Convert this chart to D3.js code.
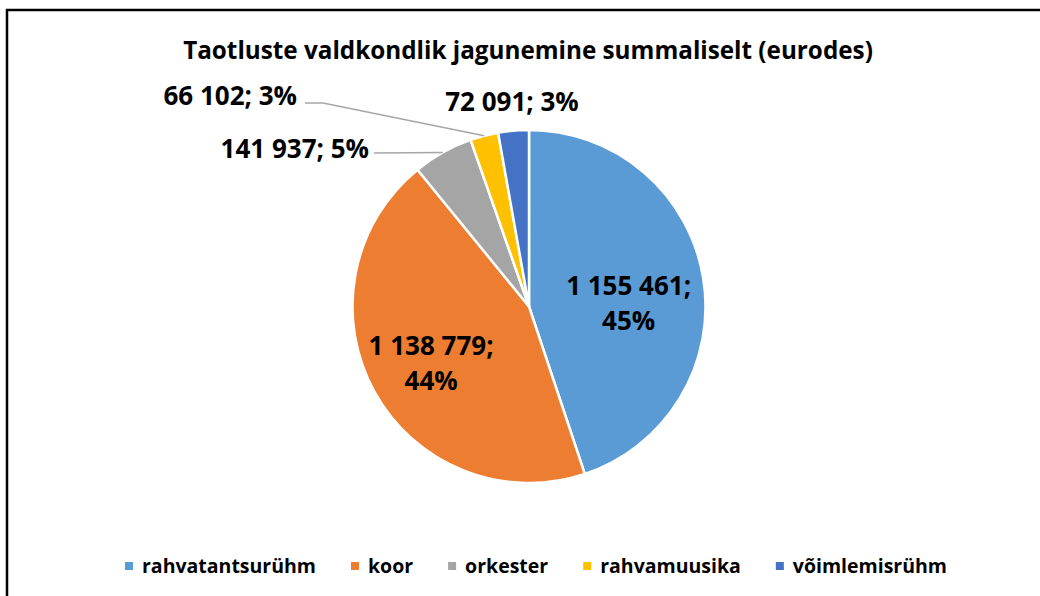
<!DOCTYPE html>
<html>
<head>
<meta charset="utf-8">
<script src="https://cdn.jsdelivr.net/npm/d3@7"></script>
<style>
  body { margin: 0; background: #fff; }
  svg { display: block; font-family: "Open Sans", "Liberation Sans", sans-serif; }
</style>
</head>
<body>
<div id="cont"></div>
<script>
// data
var categories = ["rahvatantsurühm", "koor", "orkester", "rahvamuusika", "võimlemisrühm"];
var values = [1155461, 1138779, 141937, 66102, 72091];
var percents = ["45%", "44%", "5%", "3%", "3%"];
var colors = ["#5B9BD5", "#ED7D31", "#A5A5A5", "#FFC000", "#4472C4"];

var W = 1040, H = 596;
var cx = 529, cy = 306.5, r = 176.5;

var svg = d3.select("#cont")
  .append("svg")
  .attr("width", W)
  .attr("height", H);

svg.append("rect")
  .attr("width", W).attr("height", H)
  .style("fill", "#fff");

// chart border (runs off right/bottom edge)
svg.append("rect")
  .attr("x", 7).attr("y", 10)
  .attr("width", W + 20).attr("height", H + 20)
  .style("fill", "none")
  .style("stroke", "#000")
  .style("stroke-width", 2.5);

// font size that gives a text the width it has in the reference
function fitSize(str, w, base) {
  var t = svg.append("text").style("font-size", base + "px").style("font-weight", "bold").text(str);
  var fs = base * w / t.node().getComputedTextLength();
  t.remove();
  return fs;
}

svg.append("text")
  .attr("x", 528).attr("y", 59)
  .attr("text-anchor", "middle")
  .style("font-size", fitSize("Taotluste valdkondlik jagunemine summaliselt (eurodes)", 690, 24) + "px")
  .style("font-weight", "bold")
  .style("fill", "#000")
  .text("Taotluste valdkondlik jagunemine summaliselt (eurodes)");

var fmt = function(v) { return d3.format(",")(v).replace(/,/g, " "); };

var pie = d3.pie().sort(null).value(function(d) { return d; });
var arcs = pie(values);
var arc = d3.arc().innerRadius(0).outerRadius(r);

var g = svg.append("g").attr("transform", "translate(" + cx + "," + cy + ")");

g.selectAll("path")
  .data(arcs)
  .enter()
  .append("path")
  .attr("d", arc)
  .style("fill", function(d, i) { return colors[i]; })
  .style("stroke", "#fff")
  .style("stroke-width", 2.5)
  .style("stroke-linejoin", "round");

// label placement (layout only)
var labelArc = d3.arc().innerRadius(106).outerRadius(106);
var innerNudge = [[-5, 13], [-5, 5]];
var outerPt = function(d, rad) {
  var a = (d.startAngle + d.endAngle) / 2;
  return [rad * Math.sin(a), -rad * Math.cos(a)];
};

var lblSize = fitSize(fmt(values[0]) + ";", 125, 24) + "px";

// big slices: two-line labels inside
arcs.slice(0, 2).forEach(function(d, i) {
  var c = labelArc.centroid(d);
  var x = c[0] + innerNudge[i][0], y = c[1] + innerNudge[i][1];
  var t = g.append("text")
    .attr("text-anchor", "middle")
    .style("font-size", lblSize)
    .style("font-weight", "bold")
    .style("fill", "#000");
  t.append("tspan").attr("x", x).attr("y", y - 8).text(fmt(values[i]) + ";");
  t.append("tspan").attr("x", x).attr("y", y + 27).text(percents[i]);
});

// small slices: outside with leader lines
var leaders = {
  2: { bend: null, end: [-155, -153.5], text: [-160, -149] },
  3: { bend: [-206, -203.5], end: [-224, -203.5], text: [-232, -202] }
};

[2, 3].forEach(function(i) {
  var d = arcs[i];
  var p = outerPt(d, r);
  var L = leaders[i];
  var pts = [p];
  if (L.bend) pts.push(L.bend);
  pts.push(L.end);
  g.append("path")
    .attr("d", d3.line()(pts))
    .style("fill", "none")
    .style("stroke", "#A6A6A6")
    .style("stroke-width", 1.5);
  g.append("text")
    .attr("x", L.text[0]).attr("y", L.text[1])
    .attr("text-anchor", "end")
    .style("font-size", lblSize)
    .style("font-weight", "bold")
    .style("fill", "#000")
    .text(fmt(values[i]) + "; " + percents[i]);
});

var p4 = outerPt(arcs[4], 205);
g.append("text")
  .attr("x", p4[0] + 1).attr("y", p4[1] + 9)
  .attr("text-anchor", "middle")
  .style("font-size", lblSize)
  .style("font-weight", "bold")
  .style("fill", "#000")
  .text(fmt(values[4]) + "; " + percents[4]);

// legend
var leg = svg.append("g");
var xpos = 0;
categories.forEach(function(c, i) {
  var item = leg.append("g").attr("transform", "translate(" + xpos + ",0)");
  item.append("rect")
    .attr("x", 0).attr("y", 562)
    .attr("width", 8).attr("height", 8)
    .style("fill", colors[i]);
  var t = item.append("text")
    .attr("x", 17).attr("y", 573)
    .style("font-size", "19.5px")
    .style("font-weight", "bold")
    .style("fill", "#000")
    .text(c);
  xpos += 17 + t.node().getComputedTextLength() + 35;
});
var legW = xpos - 35;
leg.attr("transform", "translate(" + (536 - legW / 2) + ",0)");
</script>
</body>
</html>
